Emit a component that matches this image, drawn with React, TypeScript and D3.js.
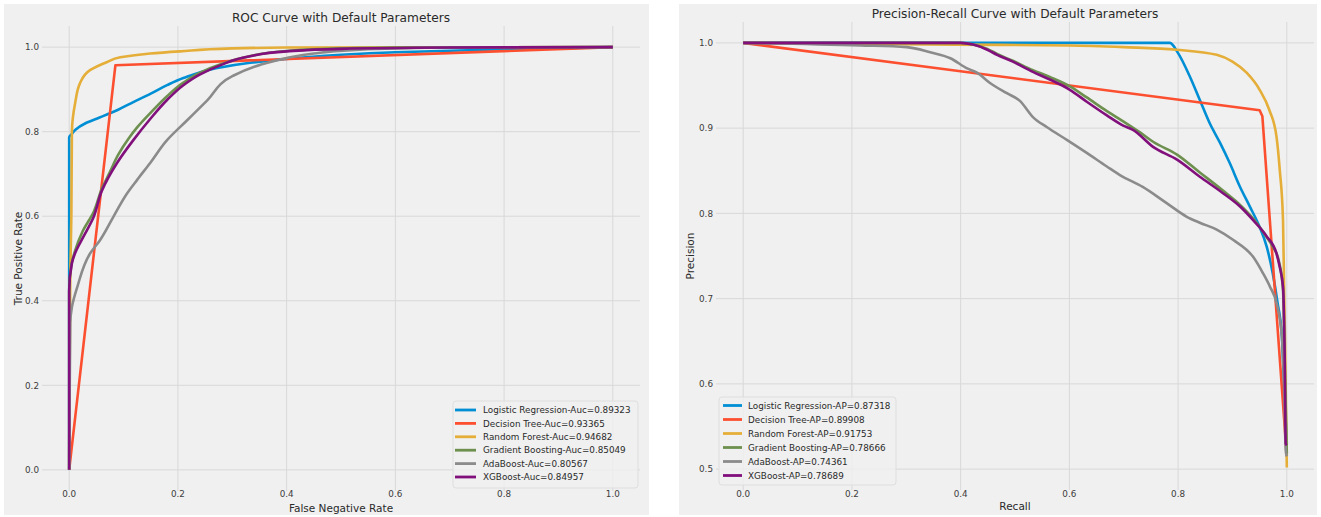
import React from "react";
import * as d3 from "d3";

type Pt = [number, number];

const MODELS = ["Logistic Regression", "Decision Tree", "Random Forest", "Gradient Boosting", "AdaBoost", "XGBoost"];
const COLORS = ["#008fd5", "#fc4f30", "#e5ae38", "#6d904f", "#8b8b8b", "#810f7c"];
const ROC_AUC = ["0.89323", "0.93365", "0.94682", "0.85049", "0.80567", "0.84957"];
const PR_AP = ["0.87318", "0.89908", "0.91753", "0.78666", "0.74361", "0.78689"];

const ROC_TICKS_X = [0, 0.2, 0.4, 0.6, 0.8, 1.0];
const ROC_TICKS_Y = [0, 0.2, 0.4, 0.6, 0.8, 1.0];
const PR_TICKS_X = [0, 0.2, 0.4, 0.6, 0.8, 1.0];
const PR_TICKS_Y = [0.5, 0.6, 0.7, 0.8, 0.9, 1.0];

// ROC curves: [fpr, tpr]
const rocLR: Pt[] = [[0, 0], [0, 0.787], [0.005, 0.795], [0.011, 0.804], [0.03, 0.82], [0.057, 0.834], [0.09, 0.852], [0.118, 0.87], [0.15, 0.89], [0.18, 0.91], [0.21, 0.927], [0.27, 0.95], [0.333, 0.963], [0.425, 0.975], [0.5, 0.982], [0.6, 0.988], [0.8, 0.995], [1, 1]];
const rocDT: Pt[] = [[0, 0], [0.085, 0.957], [1, 1]];
const rocRF: Pt[] = [[0, 0], [0.002, 0.46], [0.004, 0.6], [0.005, 0.8], [0.011, 0.868], [0.02, 0.915], [0.039, 0.946], [0.07, 0.965], [0.094, 0.976], [0.149, 0.985], [0.204, 0.99], [0.3, 0.997], [0.4, 0.999], [1, 1]];
const rocGB: Pt[] = [[0, 0], [0, 0.42], [0.004, 0.485], [0.01, 0.515], [0.025, 0.565], [0.045, 0.61], [0.06, 0.665], [0.075, 0.705], [0.09, 0.745], [0.11, 0.785], [0.125, 0.81], [0.15, 0.845], [0.18, 0.884], [0.21, 0.916], [0.24, 0.939], [0.28, 0.96], [0.33, 0.978], [0.4, 0.991], [0.5, 0.997], [0.6, 0.999], [1, 1]];
const rocAda: Pt[] = [[0, 0], [0.002, 0.347], [0.005, 0.385], [0.015, 0.433], [0.039, 0.513], [0.057, 0.544], [0.081, 0.598], [0.107, 0.655], [0.125, 0.686], [0.149, 0.726], [0.18, 0.78], [0.217, 0.827], [0.254, 0.874], [0.301, 0.932], [0.351, 0.958], [0.4, 0.974], [0.45, 0.985], [0.52, 0.993], [0.6, 0.997], [0.7, 0.999], [1, 1]];
const rocXGB: Pt[] = [[0, 0], [0, 0.425], [0.005, 0.489], [0.011, 0.513], [0.026, 0.551], [0.044, 0.595], [0.06, 0.66], [0.088, 0.726], [0.118, 0.78], [0.149, 0.83], [0.18, 0.875], [0.21, 0.91], [0.24, 0.935], [0.28, 0.958], [0.33, 0.978], [0.4, 0.99], [0.5, 0.996], [0.7, 0.999], [1, 1]];

// PR curves: [recall, precision]
const prLR: Pt[] = [[0, 1], [0.785, 1.0], [0.8, 0.988], [0.822, 0.96], [0.84, 0.933], [0.858, 0.906], [0.877, 0.883], [0.895, 0.859], [0.914, 0.831], [0.932, 0.808], [0.95, 0.784], [0.963, 0.761], [0.974, 0.73], [0.983, 0.695], [0.991, 0.655], [0.995, 0.596], [1.0, 0.53]];
const prDT: Pt[] = [[0, 1], [0.95, 0.921], [0.955, 0.914], [1.0, 0.515]];
const prRF: Pt[] = [[0, 1], [0.2, 0.999], [0.39, 0.998], [0.6, 0.997], [0.7, 0.995], [0.797, 0.992], [0.871, 0.986], [0.9, 0.978], [0.926, 0.965], [0.95, 0.945], [0.968, 0.921], [0.981, 0.89], [0.987, 0.851], [0.993, 0.792], [0.995, 0.714], [0.997, 0.636], [1.0, 0.502]];
const prGB: Pt[] = [[0, 1], [0.4, 1.0], [0.423, 0.998], [0.449, 0.993], [0.467, 0.987], [0.496, 0.979], [0.533, 0.968], [0.564, 0.96], [0.601, 0.949], [0.632, 0.936], [0.669, 0.92], [0.699, 0.908], [0.73, 0.895], [0.754, 0.884], [0.798, 0.869], [0.84, 0.848], [0.882, 0.827], [0.914, 0.81], [0.938, 0.794], [0.963, 0.772], [0.974, 0.761], [0.985, 0.745], [0.993, 0.71], [0.996, 0.63], [1.0, 0.518]];
const prAda: Pt[] = [[0, 1], [0.215, 0.997], [0.301, 0.995], [0.344, 0.989], [0.381, 0.982], [0.412, 0.97], [0.43, 0.965], [0.454, 0.953], [0.485, 0.941], [0.509, 0.932], [0.533, 0.913], [0.559, 0.901], [0.596, 0.886], [0.632, 0.871], [0.669, 0.855], [0.693, 0.845], [0.735, 0.831], [0.779, 0.812], [0.816, 0.796], [0.84, 0.789], [0.871, 0.781], [0.901, 0.769], [0.938, 0.749], [0.956, 0.73], [0.969, 0.714], [0.981, 0.695], [0.991, 0.655], [0.995, 0.596], [0.998, 0.522], [1.0, 0.515]];
const prXGB: Pt[] = [[0, 1], [0.4, 1.0], [0.423, 0.998], [0.449, 0.992], [0.467, 0.986], [0.496, 0.978], [0.533, 0.966], [0.564, 0.957], [0.601, 0.945], [0.632, 0.931], [0.669, 0.915], [0.699, 0.903], [0.717, 0.898], [0.754, 0.878], [0.798, 0.863], [0.84, 0.843], [0.882, 0.824], [0.914, 0.808], [0.938, 0.792], [0.963, 0.773], [0.981, 0.753], [0.987, 0.737], [0.993, 0.714], [0.996, 0.636], [0.998, 0.53], [1.0, 0.528]];

const ROC_SERIES = [rocLR, rocDT, rocRF, rocGB, rocAda, rocXGB];
const PR_SERIES = [prLR, prDT, prRF, prGB, prAda, prXGB];
// decision tree has only a few thresholds: straight segments
const STRAIGHT = [false, true, false, false, false, false];

const FONT = "'DejaVu Sans', Verdana, sans-serif";
const BG = "#f0f0f0";
const GRID = "#d8d8d8";

interface PanelProps {
  panel: { x: number; y: number; w: number; h: number };
  xRange: [number, number];
  yRange: [number, number];
  xDomain: [number, number];
  yDomain: [number, number];
  xTicks: number[];
  yTicks: number[];
  series: Pt[][];
  curve: d3.CurveFactory;
  labels: string[];
  title: string;
  xLabel: string;
  yLabel: string;
  xLabelY: number;
  yLabelX: number;
  tickY: number;
  legend: { x: number; y: number; w: number; h: number; row0: number; step: number; hx0: number; hx1: number; tx: number };
}

function Panel(p: PanelProps) {
  const x = d3.scaleLinear().domain(p.xDomain).range(p.xRange);
  const y = d3.scaleLinear().domain(p.yDomain).range(p.yRange);
  const smooth = d3.line<Pt>().x((d) => x(d[0])).y((d) => y(d[1])).curve(p.curve);
  const straight = d3.line<Pt>().x((d) => x(d[0])).y((d) => y(d[1])).curve(d3.curveLinear);
  const top = p.yRange[1];
  const bottom = p.yRange[0];
  const left = p.xRange[0];
  const right = p.xRange[1];
  const cx = (left + right) / 2;
  const cy = (top + bottom) / 2;
  const L = p.legend;
  return (
    <g>
      <rect x={p.panel.x} y={p.panel.y} width={p.panel.w} height={p.panel.h} fill={BG} />
      {p.xTicks.map((t) => (
        <line key={"gx" + t} x1={x(t)} x2={x(t)} y1={top} y2={bottom} stroke={GRID} strokeWidth={1} />
      ))}
      {p.yTicks.map((t) => (
        <line key={"gy" + t} x1={left} x2={right} y1={y(t)} y2={y(t)} stroke={GRID} strokeWidth={1} />
      ))}
      {p.xTicks.map((t) => (
        <text key={"tx" + t} x={x(t)} y={p.tickY} textAnchor="middle" fontSize={8.8} fill="#3c3c3c" fontFamily={FONT}>
          {t.toFixed(1)}
        </text>
      ))}
      {p.yTicks.map((t) => (
        <text key={"ty" + t} x={left - 3} y={y(t) + 3.2} textAnchor="end" fontSize={8.8} fill="#3c3c3c" fontFamily={FONT}>
          {t.toFixed(1)}
        </text>
      ))}
      {p.series.map((s, i) => (
        <path
          key={"s" + i}
          d={(STRAIGHT[i] ? straight(s) : smooth(s)) || ""}
          fill="none"
          stroke={COLORS[i]}
          strokeWidth={2.6}
          strokeLinejoin="round"
          strokeLinecap="butt"
        />
      ))}
      <text x={cx} y={top - 4} textAnchor="middle" fontSize={12.2} fill="#2a2a2a" fontFamily={FONT}>
        {p.title}
      </text>
      <text x={cx} y={p.xLabelY} textAnchor="middle" fontSize={10.5} fill="#2a2a2a" fontFamily={FONT}>
        {p.xLabel}
      </text>
      <text
        transform={`translate(${p.yLabelX},${cy}) rotate(-90)`}
        textAnchor="middle"
        fontSize={10.5}
        fill="#2a2a2a"
        fontFamily={FONT}
      >
        {p.yLabel}
      </text>
      <rect x={L.x} y={L.y} width={L.w} height={L.h} rx={3} fill={BG} fillOpacity={0.8} stroke="#dedede" strokeWidth={1} />
      {p.labels.map((lab, i) => {
        const ry = L.row0 + i * L.step;
        return (
          <g key={"lg" + i}>
            <line x1={L.hx0} x2={L.hx1} y1={ry} y2={ry} stroke={COLORS[i]} strokeWidth={2.8} />
            <text x={L.tx} y={ry + 3.2} fontSize={8.8} fill="#2a2a2a" fontFamily={FONT}>
              {lab}
            </text>
          </g>
        );
      })}
    </g>
  );
}

export default function App() {
  const rocLabels = MODELS.map((m, i) => `${m}-Auc=${ROC_AUC[i]}`);
  const prLabels = MODELS.map((m, i) => `${m}-AP=${PR_AP[i]}`);
  return (
    <svg width={1321} height={517} style={{ position: "absolute", left: 0, top: 0, background: "#ffffff" }}>
      <Panel
        panel={{ x: 4, y: 4, w: 645, h: 511 }}
        xRange={[42, 640]}
        yRange={[491, 26]}
        xDomain={[-0.05, 1.05]}
        yDomain={[-0.05, 1.05]}
        xTicks={ROC_TICKS_X}
        yTicks={ROC_TICKS_Y}
        series={ROC_SERIES}
        curve={d3.curveMonotoneY}
        labels={rocLabels}
        title="ROC Curve with Default Parameters"
        xLabel="False Negative Rate"
        yLabel="True Positive Rate"
        xLabelY={512}
        yLabelX={22}
        tickY={497}
        legend={{ x: 453, y: 401, w: 185, h: 87, row0: 410, step: 13.4, hx0: 455, hx1: 476, tx: 483 }}
      />
      <Panel
        panel={{ x: 679, y: 4, w: 638, h: 511 }}
        xRange={[716, 1314]}
        yRange={[490, 22]}
        xDomain={[-0.05, 1.05]}
        yDomain={[0.4755, 1.0245]}
        xTicks={PR_TICKS_X}
        yTicks={PR_TICKS_Y}
        series={PR_SERIES}
        curve={d3.curveMonotoneX}
        labels={prLabels}
        title="Precision-Recall Curve with Default Parameters"
        xLabel="Recall"
        yLabel="Precision"
        xLabelY={510}
        yLabelX={694}
        tickY={497}
        legend={{ x: 719, y: 397, w: 177, h: 88, row0: 405.5, step: 14, hx0: 723, hx1: 742, tx: 748 }}
      />
    </svg>
  );
}
